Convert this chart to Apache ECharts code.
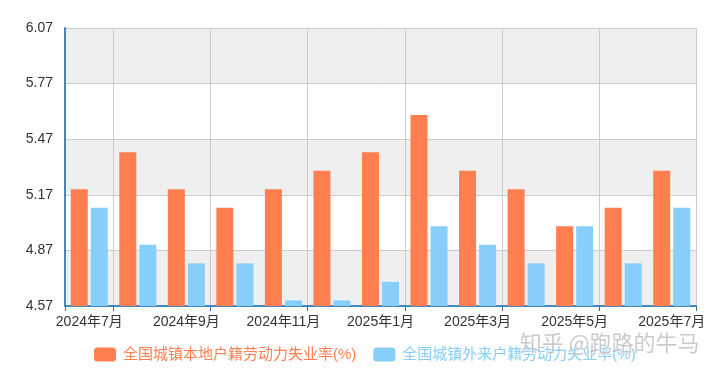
<!DOCTYPE html>
<html>
<head>
<meta charset="utf-8">
<script src="https://cdn.jsdelivr.net/npm/echarts@6/dist/echarts.min.js"></script>
<style>html,body{margin:0;padding:0;background:#fff}#c{width:720px;height:371px}</style>
</head>
<body>
<div id="c"></div>
<script>
const categories = ['2024年7月','2024年8月','2024年9月','2024年10月','2024年11月','2024年12月','2025年1月','2025年2月','2025年3月','2025年4月','2025年5月','2025年6月','2025年7月'];
const localRate = [5.2, 5.4, 5.2, 5.1, 5.2, 5.3, 5.4, 5.6, 5.3, 5.2, 5.0, 5.1, 5.3];
const migrantRate = [5.1, 4.9, 4.8, 4.8, 4.6, 4.6, 4.7, 5.0, 4.9, 4.8, 5.0, 4.8, 5.1];
const seriesNames = ['全国城镇本地户籍劳动力失业率(%)', '全国城镇外来户籍劳动力失业率(%)'];
const yTicks = [4.57, 4.87, 5.17, 5.47, 5.77, 6.07];

const FONT = '"Liberation Sans", "Noto Sans CJK SC", sans-serif';
const oddBoundary = (i) => i === 0 || i % 2 === 1;
const chart = echarts.init(document.getElementById('c'));
chart.setOption({
  animation: false,
  color: ['#ff7f50', '#87cefa'],
  grid: { left: 65, right: 24, top: 28, bottom: 65 },
  legend: {
    left: 89,
    bottom: 4,
    itemWidth: 22,
    itemHeight: 14,
    itemGap: 17,
    textStyle: { fontSize: 15, fontFamily: FONT, padding: [0, 0, 0, 2] },
    data: [
      { name: seriesNames[0], textStyle: { color: '#ff7f50' } },
      { name: seriesNames[1], textStyle: { color: '#87cefa' } }
    ]
  },
  xAxis: {
    type: 'category',
    data: categories,
    axisLine: { lineStyle: { color: '#48b', width: 2 } },
    axisTick: { show: true, interval: oddBoundary, length: 5, lineStyle: { color: '#3a6ea5' } },
    axisLabel: { interval: 1, color: '#333', fontSize: 14, fontFamily: FONT, margin: 9 },
    splitLine: { show: true, interval: oddBoundary, lineStyle: { color: '#ccc' } }
  },
  yAxis: {
    type: 'value',
    min: yTicks[0],
    max: yTicks[yTicks.length - 1],
    interval: 0.3,
    axisLine: { show: true, lineStyle: { color: '#48b', width: 2 } },
    axisTick: { show: false },
    axisLabel: { color: '#333', fontSize: 14, fontFamily: FONT, margin: 12, formatter: v => v.toFixed(2) },
    splitLine: { show: true, lineStyle: { color: '#ccc' } },
    splitArea: { show: true, areaStyle: { color: ['#efefef', '#ffffff'] } }
  },
  series: [
    { name: seriesNames[0], type: 'bar', data: localRate, barWidth: 17, barGap: '18%' },
    { name: seriesNames[1], type: 'bar', data: migrantRate, barWidth: 17, barGap: '18%' }
  ],
  graphic: [{
    type: 'text',
    right: 20,
    bottom: 17,
    style: {
      text: '知乎 @跑路的牛马',
      fontSize: 22,
      fontFamily: '"Noto Sans CJK SC", sans-serif',
      fill: 'rgba(150,150,150,0.5)',
      stroke: 'rgba(255,255,255,0.8)',
      lineWidth: 1
    },
    z: 100
  }]
});
</script>
</body>
</html>
